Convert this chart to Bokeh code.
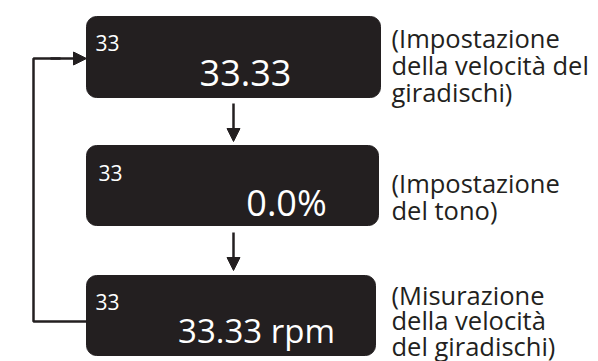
from bokeh.plotting import figure
from bokeh.models import Range1d, Arrow, NormalHead
from bokeh.core.properties import value
from bokeh.embed import file_html
from bokeh.resources import INLINE

# ---- content ----
corner_labels = ["33", "33", "33"]
main_labels = ["33.33", "0.0%", "33.33 rpm"]
captions = [
    ["(Impostazione", "della velocità del", "giradischi)"],
    ["(Impostazione", "del tono)"],
    ["(Misurazione", "della velocità", "del giradischi)"],
]

# ---- layout (pixel coordinates of the reference) ----
box_left = [86, 86, 86]
box_right = [380, 378, 375]
box_top = [16, 145, 275]
box_bottom = [97, 225, 355]
corner_x = [95, 98, 95]
corner_base = [42, 172, 301]
main_cx = [245, 286, 256]
main_base = [72, 202, 330]
main_size = ["36px", "36px", "33px"]
cap_x = 391
cap_base = [[37, 64, 91], [182, 209], [294, 319.5, 345]]

INK = "#231f20"
FONT = value("Open Sans")

p = figure(width=598, height=361, output_backend="svg", toolbar_location=None,
           x_range=Range1d(0, 598), y_range=Range1d(361, 0),
           min_border=0)
p.axis.visible = False
p.grid.visible = False
p.outline_line_color = None
p.background_fill_color = "white"
p.border_fill_color = "white"

p.quad(left=box_left, right=box_right, top=box_top, bottom=box_bottom,
       fill_color=INK, line_color=INK, line_width=1, border_radius=10)

p.text(x=corner_x, y=corner_base, text=corner_labels, text_font=FONT,
       text_font_size=value("21px"), text_color="white",
       text_align="left", text_baseline="alphabetic")

for i in range(3):
    p.text(x=[main_cx[i]], y=[main_base[i]], text=[main_labels[i]], text_font=FONT,
           text_font_size=value(main_size[i]), text_color="white",
           text_align="center", text_baseline="alphabetic")

for lines, bases in zip(captions, cap_base):
    p.text(x=[cap_x] * len(lines), y=bases, text=lines, text_font=FONT,
           text_font_size=value("25.5px"), text_color=INK,
           text_align="left", text_baseline="alphabetic")

# down arrows between boxes
for y0, y1 in [(103, 141), (232, 270)]:
    p.add_layout(Arrow(end=NormalHead(size=13, fill_color=INK, line_color=INK),
                       x_start=233, y_start=y0, x_end=233, y_end=y1,
                       line_color=INK, line_width=2.5))

# loop back line
p.line(x=[86, 33, 33, 60], y=[321, 321, 58, 58], line_color=INK, line_width=2.5)
p.add_layout(Arrow(end=NormalHead(size=13, fill_color=INK, line_color=INK),
                   x_start=50, y_start=58, x_end=86, y_end=58,
                   line_color=INK, line_width=2.5))

open("out.html", "w").write(file_html(p, INLINE))
